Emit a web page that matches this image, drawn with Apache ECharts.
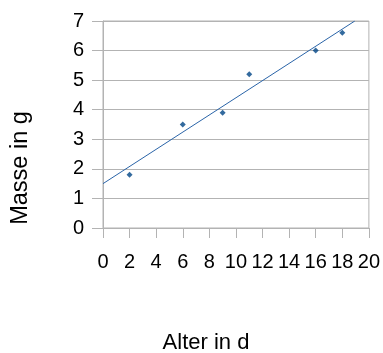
<!DOCTYPE html>
<html><head><meta charset="utf-8">
<script src="https://cdn.jsdelivr.net/npm/echarts@6/dist/echarts.min.js"></script>
<style>html,body{margin:0;padding:0;background:#fff}#c{width:383px;height:353px}</style>
</head><body><div id="c"></div>
<script>
const xValues = [2, 6, 9, 11, 16, 18];
const yValues = [1.8, 3.5, 3.9, 5.2, 6.0, 6.6];
const trendX = [0, 18.94];
const trendY = [1.5, 7];
const xName = 'Alter in d';
const yName = 'Masse in g';

const points = xValues.map((x, i) => [x, yValues[i]]);
const trend = trendX.map((x, i) => [x, trendY[i]]);
const gray = '#b3b3b3';
const font = '"Liberation Sans", Arial, sans-serif';

const chart = echarts.init(document.getElementById('c'));
chart.setOption({
  animation: false,
  grid: { left: 103, right: 12, top: 21, bottom: 125, show: true, borderColor: gray, borderWidth: 1 },
  xAxis: {
    type: 'value', min: 0, max: 20, interval: 2,
    axisLine: { lineStyle: { color: gray } },
    axisTick: { show: true, length: 10, lineStyle: { color: gray } },
    splitLine: { show: false },
    axisLabel: { color: '#000', fontFamily: font, fontSize: 20, margin: 24 }
  },
  yAxis: {
    type: 'value', min: 0, max: 7, interval: 1,
    axisLine: { show: true, lineStyle: { color: gray } },
    axisTick: { show: true, length: 11, lineStyle: { color: gray } },
    splitLine: { show: true, lineStyle: { color: gray } },
    axisLabel: { color: '#000', fontFamily: font, fontSize: 20, margin: 19 }
  },
  graphic: [
    { type: 'text', x: 206, y: 343, style: { text: xName, fontFamily: font, fontSize: 22, fill: '#000', textAlign: 'center', textVerticalAlign: 'middle' } },
    { type: 'text', x: 21, y: 168, rotation: Math.PI / 2, style: { text: yName, fontFamily: font, fontSize: 23.5, fill: '#000', textAlign: 'center', textVerticalAlign: 'middle' } }
  ],
  series: [
    { type: 'line', data: trend, symbol: 'none', clip: true, lineStyle: { color: '#2a64a8', width: 1 }, z: 2 },
    { type: 'scatter', data: points, symbol: 'diamond', symbolSize: 6, itemStyle: { color: '#004586' }, z: 3 }
  ]
});
</script></body></html>
